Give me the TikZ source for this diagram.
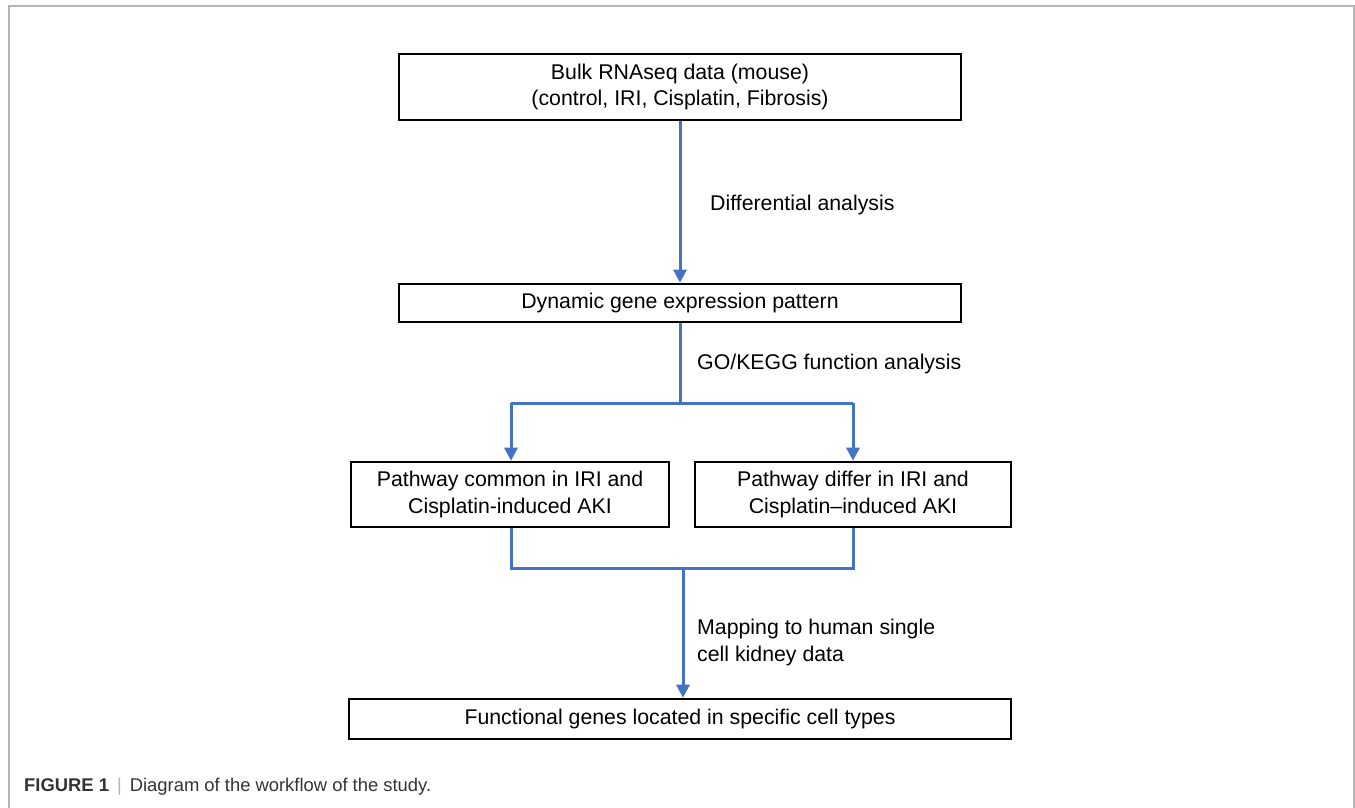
\documentclass[tikz,border=0pt]{standalone}
\usepackage{fontspec}
\setmainfont{Liberation Sans}
\usetikzlibrary{arrows.meta}
\definecolor{flowblue}{HTML}{4472C4}
\definecolor{framegray}{HTML}{B4B4B4}
\definecolor{captext}{HTML}{333333}
\tikzset{
  box/.style={draw=black, line width=2.6pt, fill=white, align=center, inner sep=0pt,
    font=\fontsize{21.3}{26.5}\selectfont},
  lbl/.style={anchor=west, align=left, inner sep=0pt, font=\fontsize{21.3}{27}\selectfont},
  flow/.style={draw=flowblue, line width=3pt},
  flowarrow/.style={flow, -{Triangle[width=13pt,length=13pt]}},
}
\begin{document}
\begin{tikzpicture}[x=1pt,y=-1pt]
\useasboundingbox (0,0) rectangle (1355,808);
% frame
\draw[framegray, line width=1.5pt] (9,808) -- (9,6) -- (1354,6) -- (1354,808);
% boxes
\node[box, minimum width=562pt, minimum height=66pt] (b1) at (680,87)
  {\raisebox{-2pt}{Bulk RNAseq data (mouse)}\\\raisebox{-2pt}{(control, IRI, Cisplatin, Fibrosis)}};
\node[box, minimum width=562pt, minimum height=38pt] (b2) at (680,303)
  {Dynamic gene expression pattern};
\node[box, minimum width=318pt, minimum height=65pt] (b3) at (510,494.5)
  {\raisebox{-2pt}{Pathway common in IRI and}\\\raisebox{-2pt}{Cisplatin-induced AKI}};
\node[box, minimum width=316pt, minimum height=65pt] (b4) at (853,494.5)
  {\raisebox{-2pt}{Pathway differ in IRI and}\\\raisebox{-2pt}{Cisplatin--induced AKI}};
\node[box, minimum width=662pt, minimum height=40pt] (b5) at (680,719)
  {Functional genes located in specific cell types};
% coordinates
\coordinate (split) at (680,403);
\coordinate (sl) at (511,403);
\coordinate (sr) at (853,403);
\coordinate (jl) at (511,568);
\coordinate (jr) at (853,568);
\coordinate (jm) at (683,568);
% connectors
\draw[flowarrow] (b1.south) -- (b2.north);
\draw[flow] (b2.south) -- (split);
\draw[flow] (sl) -- (sr);
\draw[flowarrow] (sl) -- (sl |- b3.north);
\draw[flowarrow] (sr) -- (sr |- b4.north);
\draw[flow] (jl |- b3.south) -- (jl) -- (jr) -- (jr |- b4.south);
\draw[flowarrow] (jm) -- (jm |- b5.north);
% labels
\node[lbl] (l1) at (710,205) {Differential analysis};
\node[lbl] (l2) at (697,364) {GO/KEGG function analysis};
\node[lbl] (l3) at (697,642) {Mapping to human single\\cell kidney data};
% caption
\node[anchor=west, inner sep=0pt, text=captext, font=\fontsize{18.4}{22}\selectfont] (cap) at (24,787)
  {\textbf{FIGURE 1}\hspace{8pt}{\color{framegray}|}\hspace{8pt}Diagram of the workflow of the study.};
\end{tikzpicture}
\end{document}
